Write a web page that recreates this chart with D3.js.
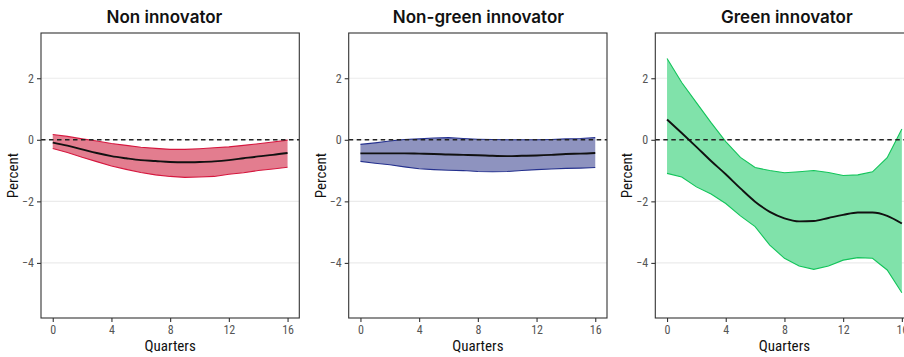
<!DOCTYPE html>
<html>
<head>
<meta charset="utf-8">
<script src="https://cdn.jsdelivr.net/npm/d3@7"></script>
<style>
  html, body { margin: 0; padding: 0; background: #fff; overflow: hidden; }
  svg { display: block; }
  .tick text { font-family: "Roboto Condensed", "Liberation Sans Narrow", "DejaVu Sans Condensed", Roboto, sans-serif; }
</style>
</head>
<body>
<svg id="chart" width="904" height="357"></svg>
<script>
// Impulse responses over 16 quarters, by firm type (percent)
const quarters = d3.range(0, 17);

const panelTitles = ["Non innovator", "Non-green innovator", "Green innovator"];

const nonInnovatorMean  = [-0.09, -0.19, -0.31, -0.43, -0.53, -0.60, -0.66, -0.69, -0.72, -0.73, -0.72, -0.70, -0.66, -0.60, -0.54, -0.49, -0.43];
const nonInnovatorUpper = [0.17, 0.11, 0.03, -0.04, -0.12, -0.18, -0.24, -0.28, -0.31, -0.31, -0.29, -0.26, -0.23, -0.18, -0.13, -0.07, -0.01];
const nonInnovatorLower = [-0.28, -0.41, -0.57, -0.71, -0.85, -0.96, -1.06, -1.14, -1.19, -1.22, -1.21, -1.19, -1.12, -1.07, -1.00, -0.95, -0.89];

const nonGreenMean  = [-0.44, -0.44, -0.44, -0.44, -0.45, -0.46, -0.48, -0.49, -0.50, -0.52, -0.53, -0.52, -0.51, -0.49, -0.46, -0.45, -0.43];
const nonGreenUpper = [-0.15, -0.10, -0.04, 0.01, 0.03, 0.06, 0.07, 0.04, 0.02, 0.01, 0.00, 0.00, 0.00, 0.01, 0.03, 0.04, 0.07];
const nonGreenLower = [-0.70, -0.76, -0.81, -0.88, -0.94, -0.97, -0.99, -1.00, -1.03, -1.04, -1.03, -1.00, -0.97, -0.95, -0.93, -0.92, -0.90];

const greenMean  = [0.66, 0.22, -0.23, -0.69, -1.12, -1.58, -2.01, -2.34, -2.55, -2.65, -2.64, -2.54, -2.44, -2.36, -2.36, -2.47, -2.72];
const greenUpper = [2.64, 1.86, 1.21, 0.56, -0.06, -0.57, -0.90, -1.00, -1.07, -1.04, -1.00, -1.06, -1.16, -1.14, -1.04, -0.58, 0.35];
const greenLower = [-1.09, -1.21, -1.53, -1.76, -2.07, -2.47, -2.82, -3.42, -3.85, -4.10, -4.21, -4.10, -3.91, -3.83, -3.85, -4.23, -4.97];

const xTicks = [0, 4, 8, 12, 16];
const yTicks = [-4, -2, 0, 2];
const yLimits = [-5.79, 3.47];
const xLimits = [-0.8, 16.8];

const panels = [
  { title: panelTitles[0], mean: nonInnovatorMean, upper: nonInnovatorUpper, lower: nonInnovatorLower,
    fill: "#e37d8f", stroke: "#d5173e" },
  { title: panelTitles[1], mean: nonGreenMean, upper: nonGreenUpper, lower: nonGreenLower,
    fill: "#8e93bf", stroke: "#25318e" },
  { title: panelTitles[2], mean: greenMean, upper: greenUpper, lower: greenLower,
    fill: "#80e2aa", stroke: "#12c45a" }
];

// Panel geometry
const panelLeft = [41, 348.7, 655.3];
const panelW = 258.3;
const plotTop = 33, plotBottom = 318;
const titleDx = [-5.7, 0.6, 2.4];
const condensed = "'Roboto Condensed', 'Liberation Sans Narrow', 'DejaVu Sans Condensed', Roboto, sans-serif";

const svg = d3.select("#chart");

const y = d3.scaleLinear().domain(yLimits).range([plotBottom, plotTop]);

panels.forEach((p, i) => {
  const left = panelLeft[i];
  const x = d3.scaleLinear().domain(xLimits).range([left, left + panelW]);
  const g = svg.append("g");

  // horizontal grid lines
  g.selectAll("line.grid").data(yTicks).join("line")
    .attr("class", "grid")
    .attr("x1", left).attr("x2", left + panelW)
    .attr("y1", d => y(d)).attr("y2", d => y(d))
    .attr("stroke", "#ebebeb").attr("stroke-width", 1.1);

  const rows = quarters.map((q, k) => ({ q, m: p.mean[k], lo: p.lower[k], hi: p.upper[k] }));

  // confidence band
  const area = d3.area().x(d => x(d.q)).y0(d => y(d.lo)).y1(d => y(d.hi));
  g.append("path").datum(rows).attr("d", area)
    .attr("fill", p.fill).attr("stroke", "none");
  g.append("path").datum(rows)
    .attr("d", d3.line().x(d => x(d.q)).y(d => y(d.hi)))
    .attr("fill", "none").attr("stroke", p.stroke).attr("stroke-width", 1.1);
  g.append("path").datum(rows)
    .attr("d", d3.line().x(d => x(d.q)).y(d => y(d.lo)))
    .attr("fill", "none").attr("stroke", p.stroke).attr("stroke-width", 1.1);

  // zero reference line
  g.append("line")
    .attr("x1", left).attr("x2", left + panelW)
    .attr("y1", y(0)).attr("y2", y(0))
    .attr("stroke", "#222").attr("stroke-width", 1.4)
    .attr("stroke-dasharray", "4.5,3.5");

  // point estimate
  g.append("path").datum(rows)
    .attr("d", d3.line().curve(d3.curveMonotoneX).x(d => x(d.q)).y(d => y(d.m)))
    .attr("fill", "none").attr("stroke", "#111").attr("stroke-width", 1.9);

  // frame
  g.append("rect")
    .attr("x", left).attr("y", plotTop)
    .attr("width", panelW).attr("height", plotBottom - plotTop)
    .attr("fill", "none").attr("stroke", "#333").attr("stroke-width", 1.1);

  // axes
  const yAxis = d3.axisLeft(y).tickValues(yTicks).tickSize(4).tickPadding(3).tickFormat(d3.format("d"));
  const xAxis = d3.axisBottom(x).tickValues(xTicks).tickSize(4).tickPadding(3).tickFormat(d3.format("d"));

  const ya = g.append("g").attr("transform", `translate(${left},0)`).call(yAxis);
  const xa = g.append("g").attr("transform", `translate(0,${plotBottom})`).call(xAxis);
  [ya, xa].forEach(a => {
    a.select(".domain").remove();
    a.selectAll(".tick line").attr("stroke", "#333").attr("stroke-width", 1.1);
    a.selectAll(".tick text").attr("fill", "#555").attr("font-size", 12);
  });

  // titles
  g.append("text")
    .attr("x", left + panelW / 2 + titleDx[i]).attr("y", 23)
    .attr("text-anchor", "middle")
    .attr("font-family", "Inter, Lato, sans-serif")
    .attr("font-weight", 600).attr("font-size", 17).attr("fill", "#111")
    .text(p.title);

  g.append("text")
    .attr("x", left + panelW / 2).attr("y", 350.5)
    .attr("text-anchor", "middle")
    .attr("font-family", condensed)
    .attr("font-size", 15).attr("fill", "#111")
    .text("Quarters");

  g.append("text")
    .attr("transform", `translate(${left - 23},${(plotTop + plotBottom) / 2}) rotate(-90)`)
    .attr("text-anchor", "middle")
    .attr("font-family", condensed)
    .attr("font-size", 15).attr("fill", "#111")
    .text("Percent");
});
</script>
</body>
</html>
